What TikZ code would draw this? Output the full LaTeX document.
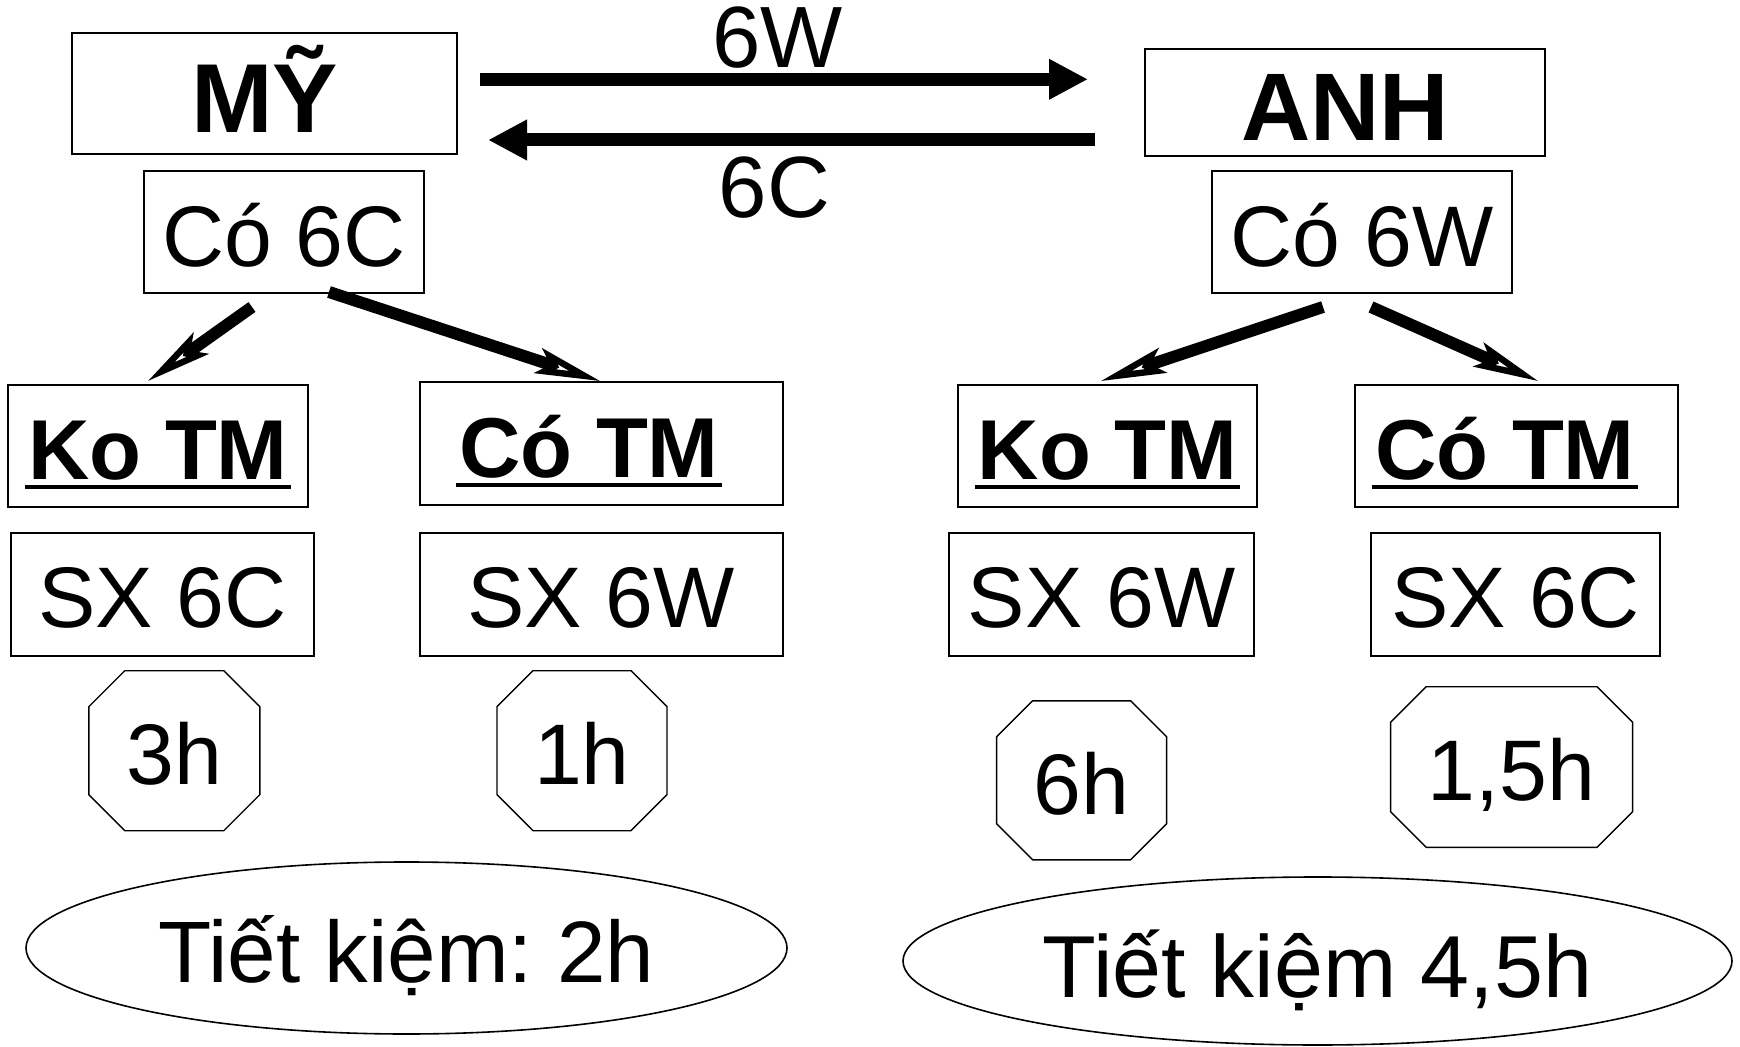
\documentclass[tikz,border=0pt]{standalone}
\usepackage{fontspec}
\setmainfont{Liberation Sans}
\usetikzlibrary{arrows.meta,shapes.geometric,calc}
\frenchspacing

\newcommand\ulin[1]{\setbox0\hbox{#1}\rlap{\kern-1.5pt\rule[-4.5pt]{\dimexpr\wd0+3pt\relax}{2pt}}\box0}
\newcommand\octdraw[2]{%
  \draw[octline] ($(#1.north west)+(#2,0)$) -- ($(#1.north east)+(-#2,0)$)
   -- ($(#1.north east)+(0,#2)$) -- ($(#1.south east)+(0,-#2)$)
   -- ($(#1.south east)+(-#2,0)$) -- ($(#1.south west)+(#2,0)$)
   -- ($(#1.south west)+(0,-#2)$) -- ($(#1.north west)+(0,#2)$) -- cycle;}

\begin{document}
\begin{tikzpicture}[x=0.5pt,y=-0.5pt,
  box/.style={draw, line width=1pt, inner sep=0pt, outer sep=0pt, text depth=0pt,
    font=\fontsize{43}{43}\selectfont},
  headbox/.style={box, font=\fontsize{48}{48}\selectfont\bfseries},
  tmbox/.style={box, font=\fontsize{42.5}{42.5}\selectfont\bfseries},
  octnode/.style={inner sep=0pt, outer sep=0pt, text height=34pt, text depth=0pt,
    font=\fontsize{43}{43}\selectfont},
  octline/.style={line width=0.7pt},
  oval/.style={draw, ellipse, line width=0.8pt, inner sep=0pt, outer sep=0pt, text depth=0pt},
  lbl/.style={inner sep=0pt, font=\fontsize{43.5}{43.5}\selectfont},
  bigarrow/.style={line width=6.5pt, -{Triangle[length=19.5pt,width=19pt]}},
  diagarrow/.style={line width=6pt, -{Stealth[open, fill=white, length=32.5pt, width=13pt, inset=6.5pt, line width=3.2pt]}}
]
\fill[white] (0,0) rectangle (1740,1047);
\useasboundingbox (0,0) rectangle (1740,1047);

% top boxes
\node[headbox, minimum width=192.5pt, minimum height=60.5pt, text height=39pt,
  font=\fontsize{49}{49}\selectfont\bfseries] (my) at (264.5,94) {MỸ};
\node[headbox, minimum width=200pt, minimum height=53.5pt, text height=38.5pt] (anh) at (1345,102.5) {ANH};
\node[box, minimum width=140pt, minimum height=61pt, text height=35pt] (co6c) at (284,232) {Có 6C};
\node[box, minimum width=150pt, minimum height=61pt, text height=35pt] (co6w) at (1362,232) {Có 6W};

% TM boxes
\node[tmbox, minimum width=150pt, minimum height=61pt, text height=34pt] (kotm1) at (158,446) {\ulin{Ko TM}};
\node[tmbox, minimum width=181.5pt, minimum height=61.5pt, text height=34.5pt] (cotm1) at (601,443.5) {\ulin{Có TM}\kern12pt};
\node[tmbox, minimum width=149.5pt, minimum height=61pt, text height=34pt] (kotm2) at (1107.5,446) {\ulin{Ko TM}};
\node[tmbox, minimum width=161.5pt, minimum height=61pt, text height=34pt] (cotm2) at (1516.5,446) {\ulin{Có TM}\kern11.5pt};

% SX boxes
\node[box, minimum width=151.5pt, minimum height=61.5pt, text height=33.5pt] (sx1) at (162.5,594.5) {SX 6C};
\node[box, minimum width=181.5pt, minimum height=61.5pt, text height=33.5pt] (sx2) at (601,594.5) {SX 6W};
\node[box, minimum width=152.5pt, minimum height=61.5pt, text height=33.5pt] (sx3) at (1101.5,594.5) {SX 6W};
\node[box, minimum width=144.5pt, minimum height=61.5pt, text height=33.5pt] (sx4) at (1515.5,594.5) {SX 6C};

% octagons
\node[octnode, minimum width=85.5pt, minimum height=80pt] (h3) at (174.3,750.7) {3h};
\node[octnode, minimum width=85pt, minimum height=80pt] (h1) at (582,750.7) {1h};
\node[octnode, minimum width=85pt, minimum height=79.5pt, text height=34.5pt] (h6) at (1081.6,780.3) {6h};
\node[octnode, minimum width=121pt, minimum height=80.3pt, text height=33pt] (h15) at (1511.6,767) {1,5h};
\octdraw{h3}{36}
\octdraw{h1}{36}
\octdraw{h6}{36}
\octdraw{h15}{35.5}

% ellipses
\node[oval, minimum width=380.5pt, minimum height=86pt, text height=34pt,
  font=\fontsize{43.6}{43.6}\selectfont] (tk1) at (406.5,948) {Tiết kiệm: 2h};
\node[oval, minimum width=414.5pt, minimum height=84pt, text height=36.5pt,
  font=\fontsize{44}{44}\selectfont] (tk2) at (1317.5,961) {Tiết kiệm 4,5h};

% horizontal arrows and labels
\coordinate (r1) at (0,79.3);
\coordinate (r2) at (0,140);
\draw[bigarrow, shorten <=11.5pt, shorten >=28.5pt] (my.east |- r1) -- (anh.west |- r1);
\draw[bigarrow, shorten <=25pt, shorten >=15.5pt] (anh.west |- r2) -- (my.east |- r2);
\node[lbl, anchor=base] (l6w) at (777.5,68) {6W};
\node[lbl, anchor=base] (l6c) at (774.5,218) {6C};

% diagonal arrows
\draw[diagarrow] ($(co6c.south)+(-32,14)$) -- ($(kotm1.north)+(-10,-4)$);
\draw[diagarrow] ($(co6c.south)+(45,-1)$) -- ($(cotm1.north)+(-1,-1)$);
\draw[diagarrow] ($(co6w.south)+(-39,14)$) -- ($(kotm2.north)+(-6.5,-4)$);
\draw[diagarrow] ($(co6w.south)+(9,14)$) -- ($(cotm2.north)+(21.5,-4)$);
\end{tikzpicture}
\end{document}
